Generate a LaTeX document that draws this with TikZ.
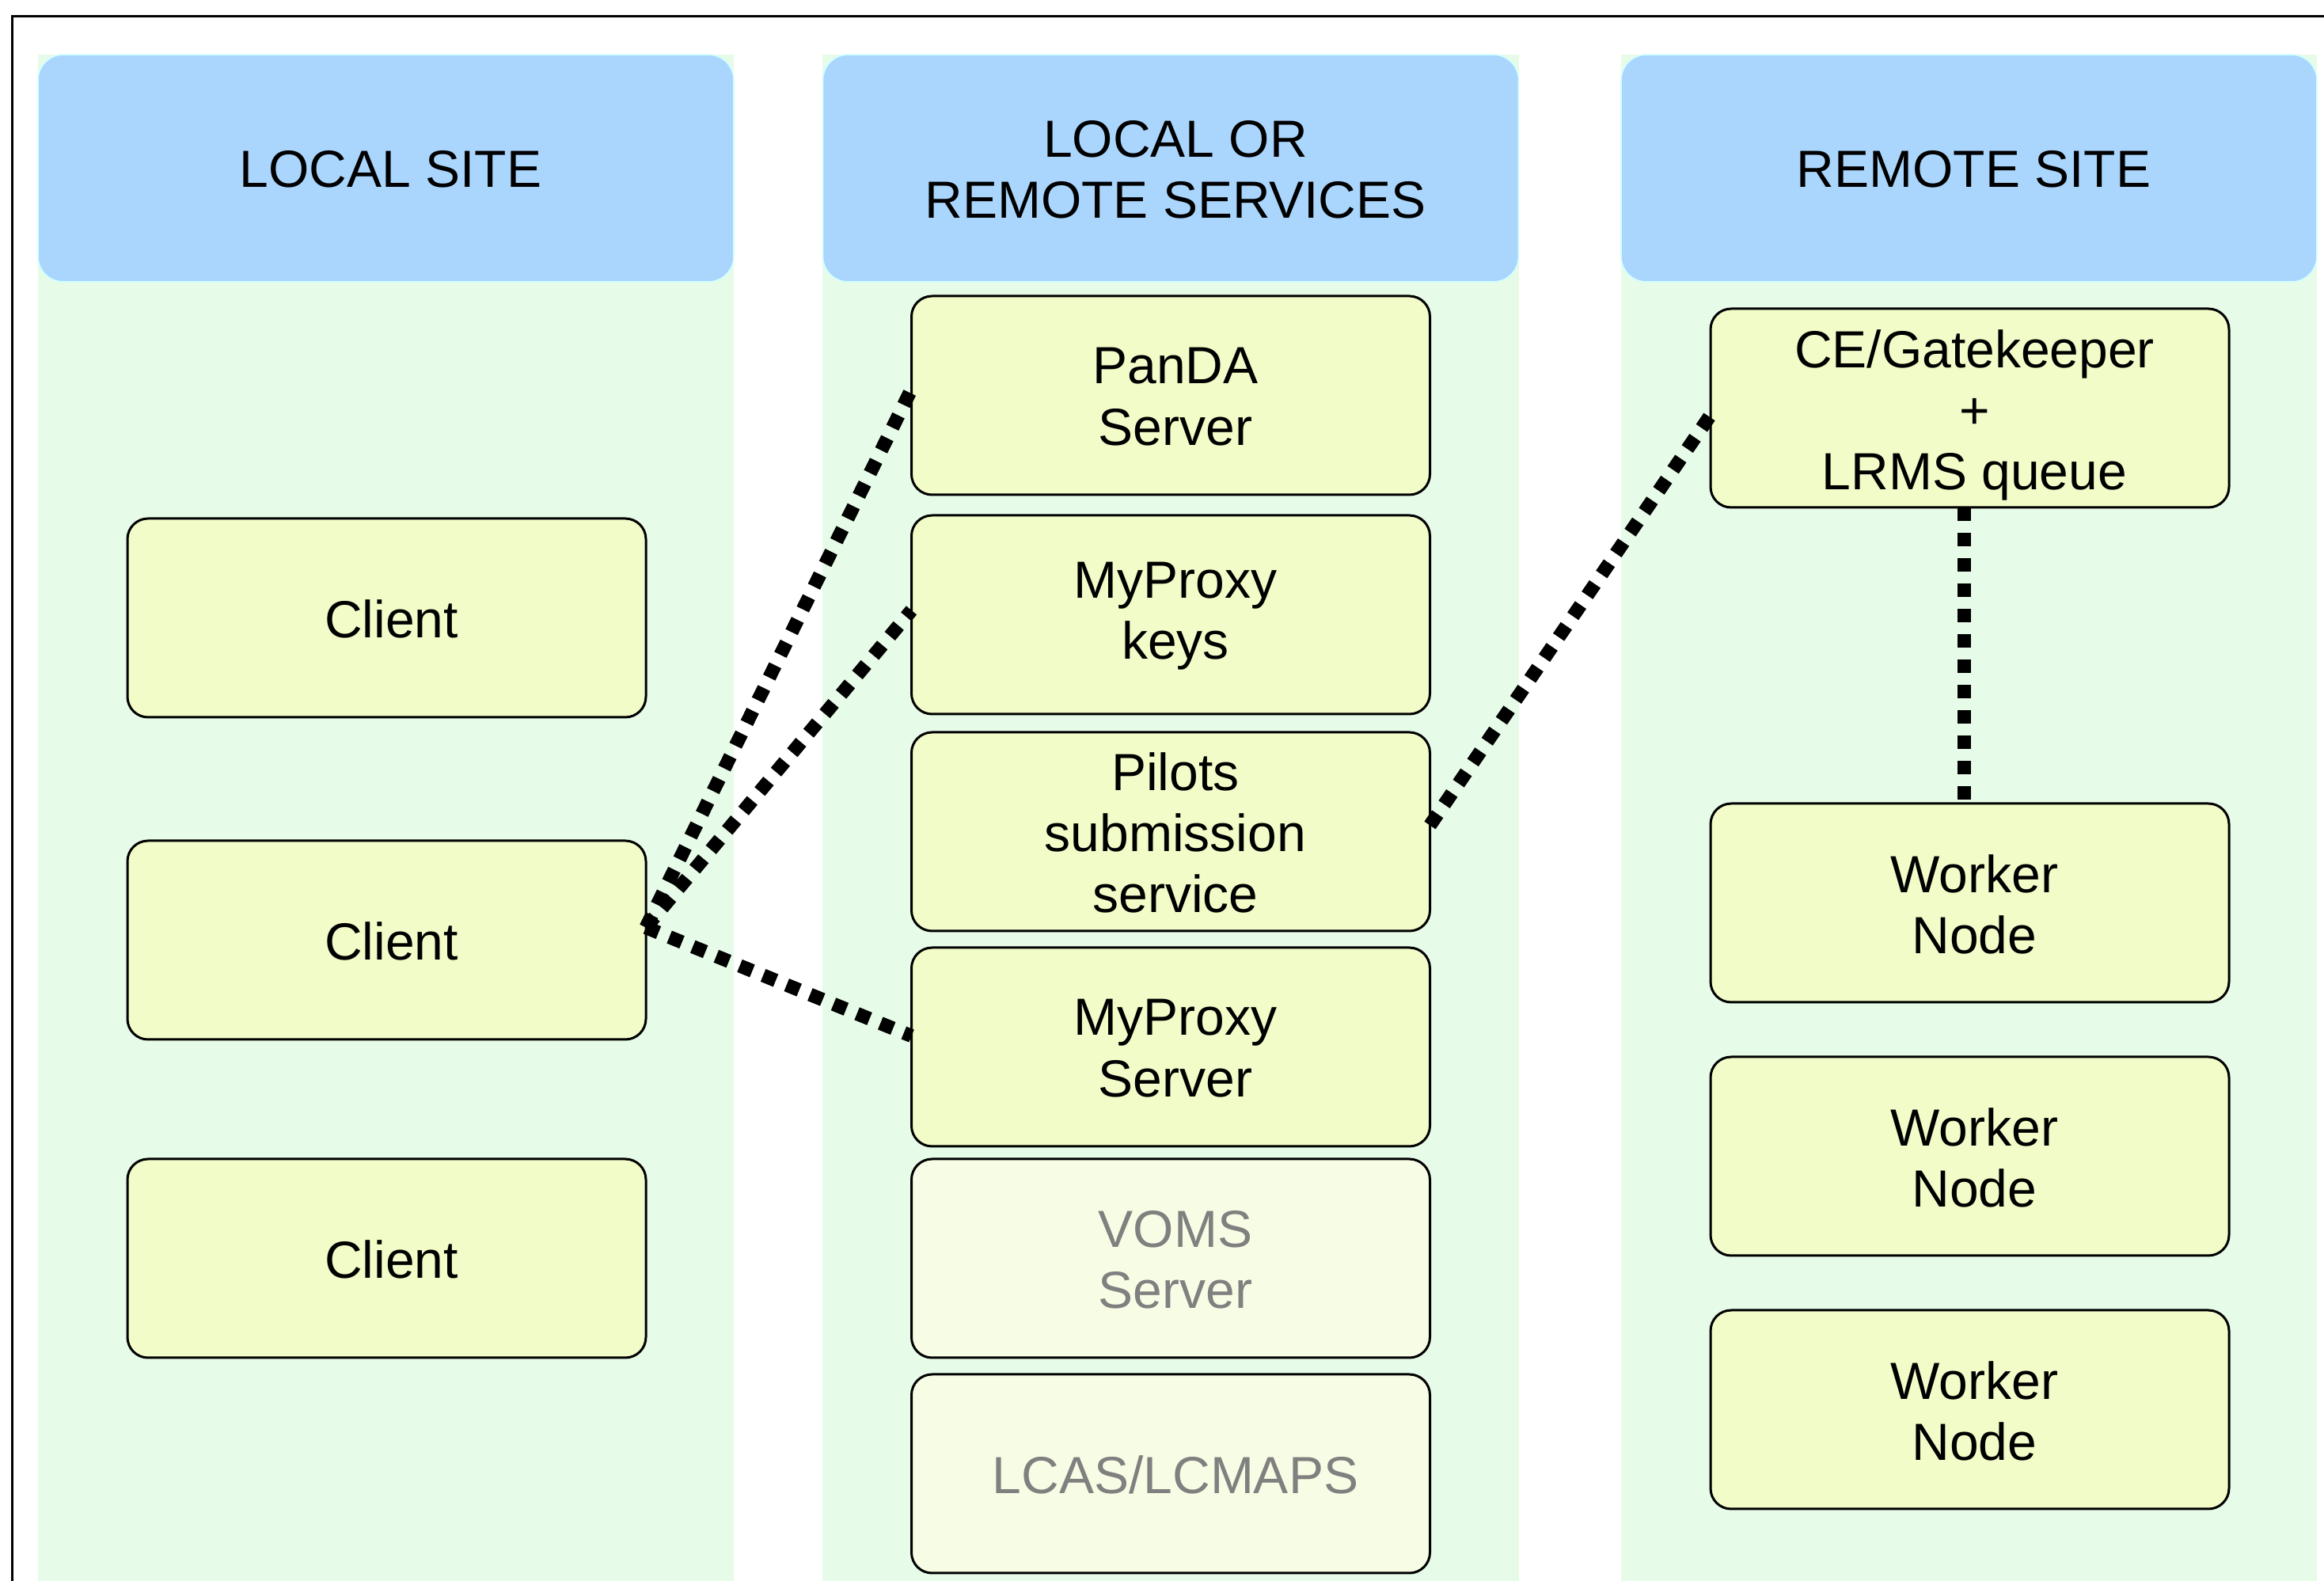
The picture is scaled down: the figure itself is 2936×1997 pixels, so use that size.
\documentclass[tikz,border=0pt]{standalone}
\usepackage{fontspec}
\setmainfont{Liberation Sans}
\definecolor{colbg}{RGB}{230,251,232}
\definecolor{headbg}{RGB}{170,214,254}
\definecolor{headedge}{RGB}{210,255,255}
\definecolor{boxbg}{RGB}{242,252,200}
\definecolor{boxpale}{RGB}{247,253,228}
\definecolor{txtgray}{RGB}{128,128,128}
\tikzset{
  colrect/.style={fill=colbg, draw=none},
  txt/.style={align=center, inner sep=0pt, xshift=1.5pt, yshift=-0.4pt,
    font=\fontsize{16.5pt}{19.3pt}\selectfont},
  header/.style={fill=headbg, draw=headedge, line width=0.4pt, rounded corners=8pt,
    minimum width=219.75pt, minimum height=71.75pt, inner sep=0pt,
    label={[txt]center:#1}},
  boxshape/.style={fill=boxbg, draw=black, line width=0.75pt, rounded corners=6.5pt,
    minimum width=163.75pt, minimum height=62.75pt, inner sep=0pt, outer sep=0pt},
  box/.style={boxshape, label={[txt]center:#1}},
  lowbox/.style={boxshape, label={[txt, yshift=-1.9pt]center:#1}},
  palebox/.style={boxshape, fill=boxpale, label={[txt, text=txtgray]center:#1}},
  link/.style={line width=4.3pt, dash pattern=on 4.3pt off 3.7pt}
}
\begin{document}
\begin{tikzpicture}[x=0.25pt,y=-0.25pt]
\useasboundingbox (0,0) rectangle (2936,1997);
\fill[white] (0,0) rectangle (2936,1997);
% outer frame
\draw[line width=0.75pt] (15,2100) -- (15,21) -- (3050,21);
% columns
\fill[colrect] (48,69) rectangle (927,2010);
\fill[colrect] (1039,69) rectangle (1919,2010);
\fill[colrect] (2048,69) rectangle (2927,2010);
% headers
\node[header={LOCAL SITE}] (h1) at (487.5,212.5) {};
\node[header={LOCAL OR\\REMOTE SERVICES}] (h2) at (1479,212.5) {};
\node[header={REMOTE SITE}] (h3) at (2487.5,212.5) {};
% left column
\node[box={Client}] (c1) at (488.5,780.5) {};
\node[box={Client}] (c2) at (488.5,1187.5) {};
\node[box={Client}] (c3) at (488.5,1589.5) {};
% middle column
\node[box={PanDA\\Server}] (panda) at (1479,499.5) {};
\node[box={MyProxy\\keys}] (keys) at (1479,776.5) {};
\node[box={Pilots\\submission\\service}] (pilots) at (1479,1050.5) {};
\node[box={MyProxy\\Server}] (mps) at (1479,1322.5) {};
\node[palebox={VOMS\\Server}] (voms) at (1479,1589.5) {};
\node[palebox={LCAS/LCMAPS}] (lcas) at (1479,1861.5) {};
% right column
\node[lowbox={CE/Gatekeeper\\+\\LRMS queue}] (ce) at (2488.5,515.5) {};
\node[box={Worker\\Node}] (wn1) at (2488.5,1140.5) {};
\node[box={Worker\\Node}] (wn2) at (2488.5,1460.5) {};
\node[box={Worker\\Node}] (wn3) at (2488.5,1780.5) {};
% connectors
\draw[link] ([yshift=4pt]c2.east) -- ([yshift=2pt]panda.west);
\draw[link] ([yshift=4pt]c2.east) -- ([yshift=1.4pt]keys.west);
\draw[link] ([yshift=4pt]c2.east) -- ([yshift=3.5pt]mps.west);
\draw[link] ([yshift=2pt]pilots.east) -- ([yshift=-2.2pt]ce.west);
\draw[link] ([xshift=-1.75pt]ce.south) -- ([xshift=-1.75pt]wn1.north);
\end{tikzpicture}
\end{document}
